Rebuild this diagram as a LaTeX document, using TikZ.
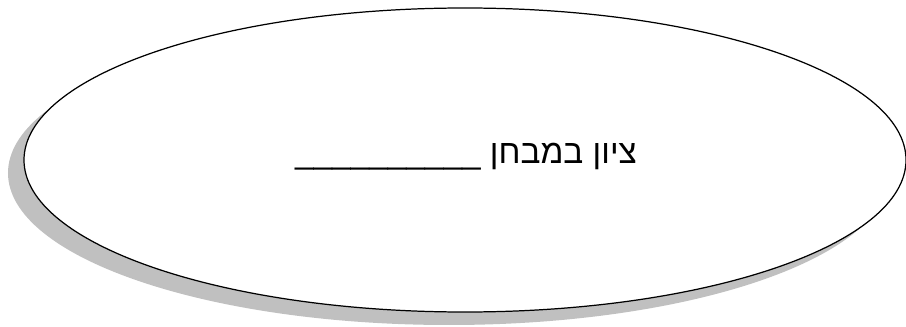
\documentclass[tikz,border=0pt]{standalone}
\usepackage{fontspec}
\newfontfamily\hebfont[Script=Hebrew]{Liberation Sans}
\TeXXeTstate=1
\definecolor{fig-shade}{HTML}{C0C0C0}
\usetikzlibrary{shapes.geometric,shadows}

\begin{document}
\begin{tikzpicture}[
    font=\hebfont,
    oval/.style={ellipse, draw=black, fill=white, line width=0.7pt, inner sep=0pt,
        minimum width=17.64cm, minimum height=6.08cm,
        general shadow={fill=fig-shade, shadow xshift=-0.32cm, shadow yshift=-0.26cm}},
    grade/.style={anchor=base, font=\hebfont\fontsize{19}{22}\selectfont}
]
\useasboundingbox (0,0) rectangle (18.12,6.52);
\node[oval] (score) at (9.30,3.32) {};
\node[grade] (label) at (9.32,3.26) {\beginR ציון במבחן \_\_\_\_\_\_\_\_\_\_\endR};
\end{tikzpicture}
\end{document}
